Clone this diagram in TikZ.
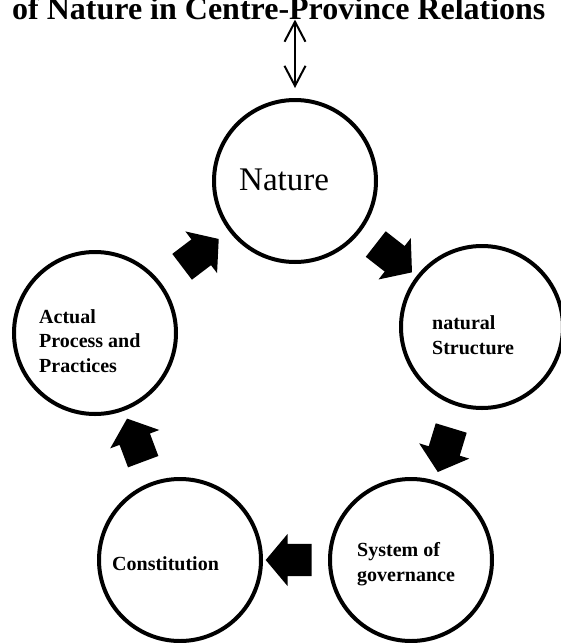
\documentclass[tikz,border=0pt]{standalone}
\usepackage{fontspec}
\setmainfont{Liberation Serif}
\usetikzlibrary{arrows.meta,shapes.arrows}

\tikzset{
	ring/.style={circle, draw, line width=4pt, minimum size=162pt, inner sep=0pt},
	lbl/.style={font=\bfseries\fontsize{20}{24.5}\selectfont, align=left, inner sep=0pt, anchor=base west},
	fatarrow/.style={single arrow, fill=black, draw=none, inner xsep=0pt, inner ysep=16pt,
		minimum height=46pt, minimum width=52pt,
		single arrow head extend=10pt, single arrow tip angle=100,
		sloped, allow upside down},
	dblarrow/.style={{Straight Barb[length=20pt,width=21pt]}-{Straight Barb[length=20pt,width=21pt]}, line width=2pt}
}

\begin{document}
\begin{tikzpicture}[x=1pt,y=1pt]
	
	%--- Rahmen ---
	\useasboundingbox (0,0) rectangle (560,-643);
	
	%--- Titel ---
	\node[font=\bfseries\fontsize{32}{36}\selectfont, inner sep=0pt, anchor=base west] (title) at (12,-19) {of Nature in Centre-Province Relations};
	
	%--- Kreise ---
	\node[ring] (nature) at (295,-181) {};
	\node[ring] (structure) at (482,-327) {};
	\node[ring] (system) at (411,-560) {};
	\node[ring] (constitution) at (180,-560) {};
	\node[ring] (actual) at (95,-333) {};
	
	%--- Texte (base = letzte Zeile) ---
	\node[inner sep=0pt, anchor=base west, font=\fontsize{33}{36}\selectfont] (naturetext) at (239,-190) {Nature};
	\node[lbl] (structuretext) at (432,-354) {natural\\Structure};
	\node[lbl] (systemtext) at (357,-581) {System of\\governance};
	\node[lbl] (constitutiontext) at (112,-570) {Constitution};
	\node[lbl] (actualtext) at (39,-372) {Actual\\Process and\\Practices};
	
	%--- Pfeile ---
	\draw[dblarrow, shorten >=10pt] (title.south -| nature.north) -- (nature.north);
	\path (nature) -- node[fatarrow] {} (structure);
	\path (structure) -- node[fatarrow] {} (system);
	\path (system) -- node[fatarrow] {} (constitution);
	\path (constitution) -- node[fatarrow] {} (actual);
	\path (actual) -- node[fatarrow] {} (nature);
	
\end{tikzpicture}
\end{document}
